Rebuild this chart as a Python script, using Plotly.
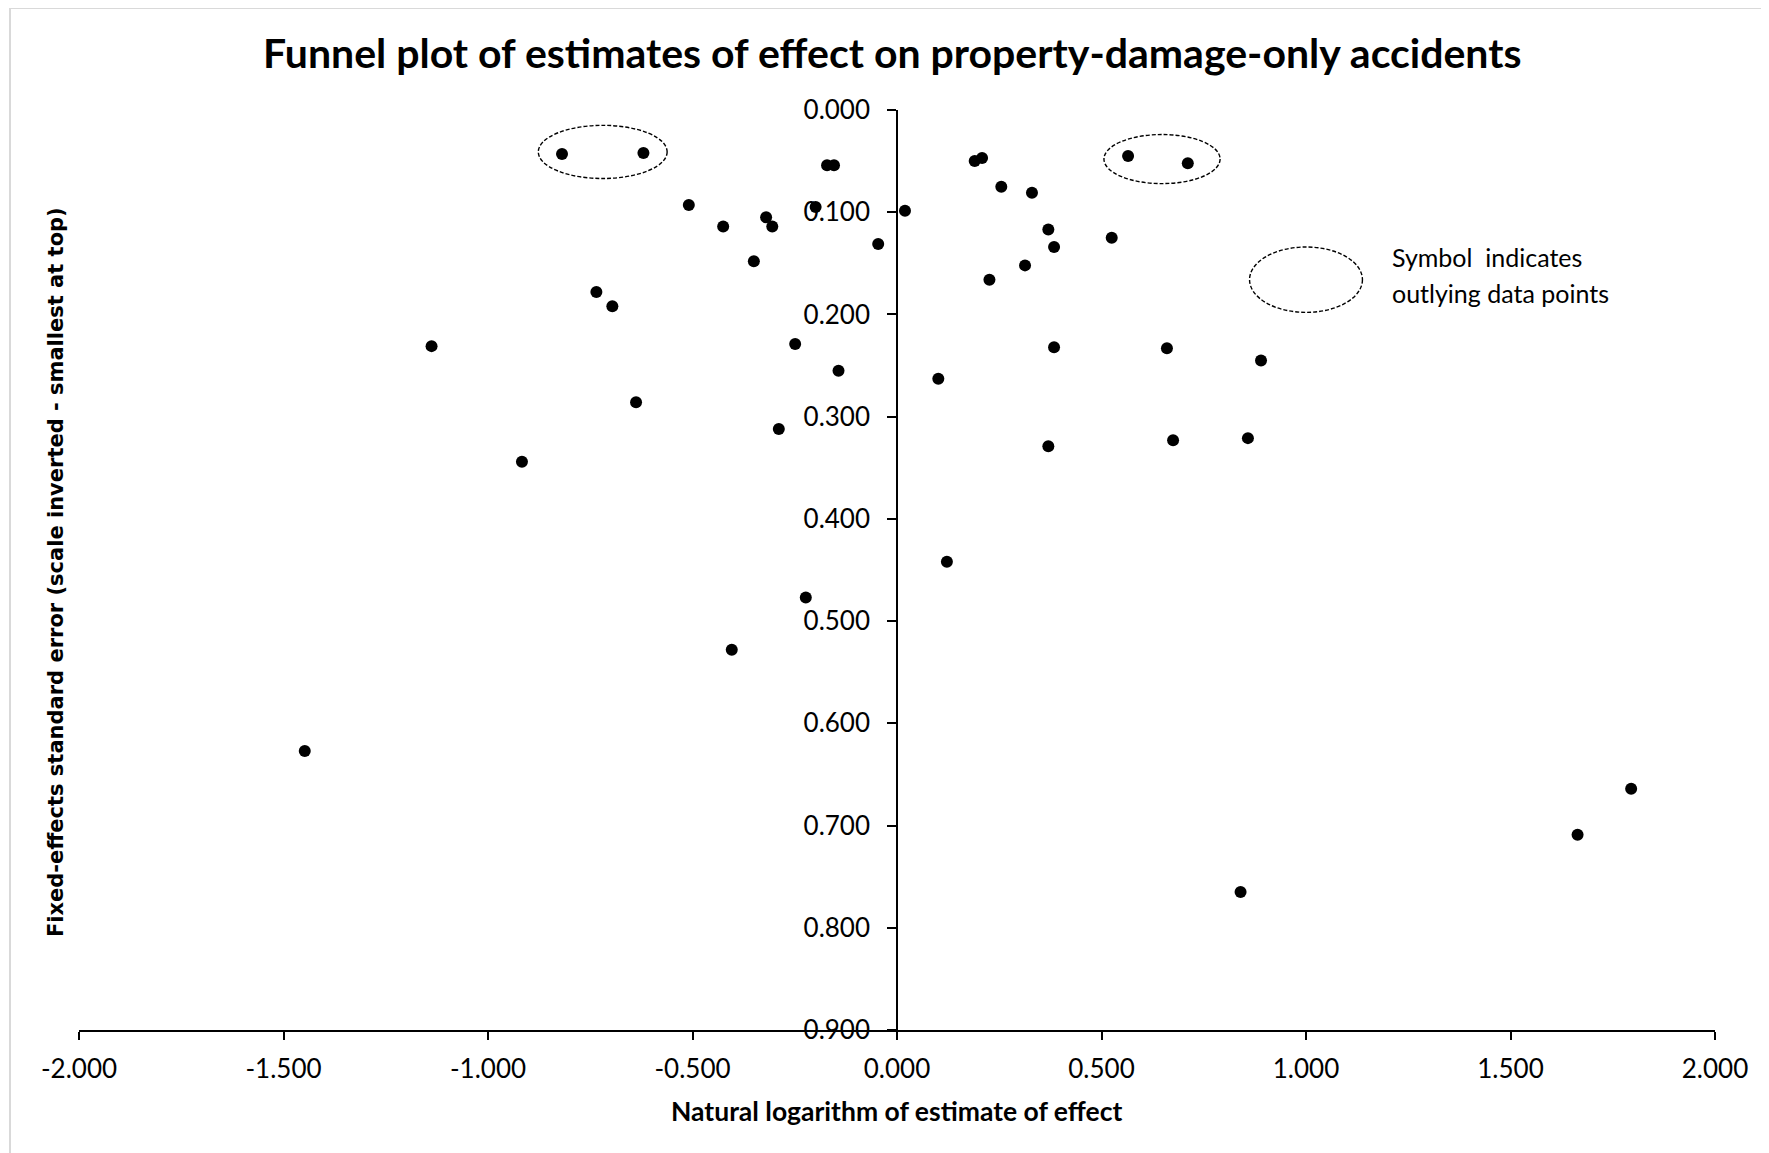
import plotly.graph_objects as go

# Natural logarithm of estimate of effect (x) and fixed-effects standard error (y)
ln_effect = [-0.819, -0.620, -0.171, -0.154, -0.509, -0.199, -0.425, -0.320, -0.305,
             -0.046, -0.350, -0.735, -0.696, -1.138, -0.249, -0.143, -0.638, -0.289,
             -0.917, -0.223, -0.404, -1.448,
             0.190, 0.208, 0.565, 0.711, 0.255, 0.330, 0.0195, 0.370, 0.384, 0.525,
             0.313, 0.226, 0.384, 0.660, 0.890, 0.101, 0.370, 0.675, 0.858, 0.122,
             1.795, 1.664, 0.840]
std_error = [0.043, 0.042, 0.054, 0.054, 0.093, 0.095, 0.114, 0.105, 0.114,
             0.131, 0.148, 0.178, 0.192, 0.231, 0.229, 0.255, 0.286, 0.312,
             0.344, 0.477, 0.528, 0.627,
             0.050, 0.047, 0.045, 0.052, 0.075, 0.081, 0.0985, 0.117, 0.134, 0.125,
             0.152, 0.166, 0.232, 0.233, 0.245, 0.263, 0.329, 0.323, 0.321, 0.442,
             0.664, 0.709, 0.765]

# Outlier-group ellipses: [x0, x1, y0, y1]
outlier_ellipses = [[-0.877, -0.562, 0.015, 0.067],
                    [0.506, 0.790, 0.024, 0.072]]
legend_ellipse = [0.862, 1.138, 0.134, 0.198]
legend_lines = ["Symbol\u00a0 indicates", "outlying data points"]
legend_text_pos = [[1.205, 0.1435], [1.205, 0.1788]]

x_ticks = [-2.0, -1.5, -1.0, -0.5, 0.0, 0.5, 1.0, 1.5, 2.0]
x_tick_labels = ["-2.000", "-1.500", "-1.000", "-0.500", "0.000",
                 "0.500", "1.000", "1.500", "2.000"]
y_ticks = [0.0, 0.1, 0.2, 0.3, 0.4, 0.5, 0.6, 0.7, 0.8, 0.9]
y_tick_labels = ["0.000", "0.100", "0.200", "0.300", "0.400",
                 "0.500", "0.600", "0.700", "0.800", "0.900"]

title_text = "Funnel plot of estimates of effect on property-damage-only accidents"
x_title = "Natural logarithm of estimate of effect"
y_title = "Fixed-effects standard error (scale inverted - smallest at top)"

FONT = "Lato"

fig = go.Figure()
fig.add_trace(go.Scatter(
    x=ln_effect, y=std_error, mode="markers",
    marker=dict(color="black", size=12, line=dict(width=0)),
    showlegend=False, hoverinfo="x+y",
))

shapes = []
for e in outlier_ellipses + [legend_ellipse]:
    shapes.append(dict(type="circle", xref="x", yref="y",
                       x0=e[0], x1=e[1], y0=e[2], y1=e[3],
                       line=dict(color="black", width=1.4, dash="4px,2px")))

# figure geometry (page has an 8px body margin)
W, H = 1769, 1153
OFF = 8
L, R, T, B = 71, 62, 102, 131
pw, ph = W - L - R, H - T - B
def px(page_x):
    return (page_x - OFF - L) / pw
def py(page_y):
    return (H - B - (page_y - OFF)) / ph

# chart-area border (top and left, light gray)
shapes.append(dict(type="line", xref="paper", yref="paper",
                   x0=px(10), x1=px(10), y0=py(8), y1=py(H + 20),
                   line=dict(color="#d9d9d9", width=2)))
shapes.append(dict(type="line", xref="paper", yref="paper",
                   x0=px(10), x1=px(W + 20), y0=py(8), y1=py(8),
                   line=dict(color="#d9d9d9", width=2)))

annotations = [
    dict(text=f"<b>{title_text}</b>", xref="paper", yref="paper",
         x=px(892), y=py(53), xanchor="center", yanchor="middle",
         showarrow=False, font=dict(family=FONT, size=41, color="black")),
    dict(text=f"<b>{x_title}</b>", xref="paper", yref="paper",
         x=px(896), y=py(1111), xanchor="center", yanchor="middle",
         showarrow=False, font=dict(family=FONT, size=26.5, color="black")),
    dict(text=f"<b>{y_title}</b>", xref="paper", yref="paper",
         x=px(56), y=py(572), xanchor="center", yanchor="middle", textangle=-90,
         showarrow=False, font=dict(family="DejaVu Sans", size=21, color="black")),
]
for line, pos in zip(legend_lines, legend_text_pos):
    annotations.append(dict(text=line, xref="x", yref="y", x=pos[0], y=pos[1],
                            xanchor="left", yanchor="middle", showarrow=False,
                            font=dict(family=FONT, size=25, color="black")))

fig.update_layout(
    width=W, height=H,
    margin=dict(l=L, r=R, t=T, b=B, pad=0),
    paper_bgcolor="white", plot_bgcolor="white",
    shapes=shapes, annotations=annotations,
    font=dict(family=FONT, color="black"),
    xaxis=dict(range=[-2, 2], tickvals=x_ticks, ticktext=x_tick_labels,
               showgrid=False, zeroline=False,
               showline=True, linecolor="black", linewidth=1.5,
               ticks="outside", ticklen=8, tickwidth=1.5, tickcolor="black",
               tickfont=dict(family=FONT, size=26, color="black"),
               ticklabelstandoff=7),
    yaxis=dict(range=[0.9, 0], tickvals=y_ticks, ticktext=y_tick_labels,
               anchor="free", position=0.5,
               showgrid=False, zeroline=False,
               showline=True, linecolor="black", linewidth=1.5,
               ticks="outside", ticklen=9, tickwidth=1.5, tickcolor="black",
               tickfont=dict(family=FONT, size=26, color="black"),
               ticklabelstandoff=12),
)

fig.write_html("out.html")
